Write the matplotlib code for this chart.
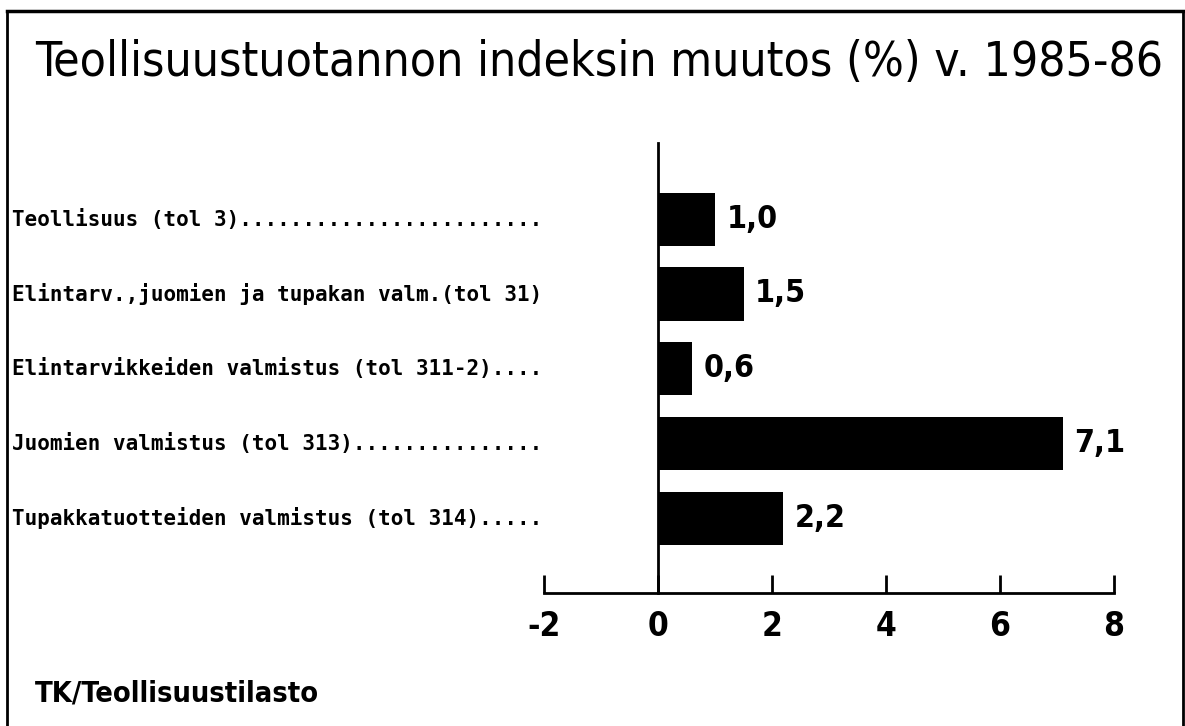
import matplotlib
matplotlib.use("Agg")
import matplotlib.pyplot as plt
from matplotlib.lines import Line2D
from matplotlib.transforms import blended_transform_factory

categories = [
    "Teollisuus (tol 3)........................",
    "Elintarv.,juomien ja tupakan valm.(tol 31)",
    "Elintarvikkeiden valmistus (tol 311-2)....",
    "Juomien valmistus (tol 313)...............",
    "Tupakkatuotteiden valmistus (tol 314).....",
]
values = [1.0, 1.5, 0.6, 7.1, 2.2]
value_labels = ["1,0", "1,5", "0,6", "7,1", "2,2"]
xticks = [-2, 0, 2, 4, 6, 8]
title = "Teollisuustuotannon indeksin muutos (%) v. 1985-86"
source = "TK/Teollisuustilasto"

plt.rcParams['font.family'] = ["DejaVu Sans"]
plt.rcParams['font.stretch'] = 'condensed'

W, H = 1185, 726
fig = plt.figure(figsize=(W / 100, H / 100), dpi=100)
fig.patch.set_facecolor("white")
renderer = fig.canvas.get_renderer()


def fit(txt, width_px):
    bb = txt.get_window_extent(renderer=renderer)
    txt.set_fontsize(txt.get_fontsize() * width_px / bb.width)


x0, x1 = 544, 1114
ytop, ybot = 143, 593
ax = fig.add_axes([x0 / W, 1 - ybot / H, (x1 - x0) / W, (ybot - ytop) / H])
ax.set_xlim(-2, 8)
ax.set_ylim(5.0, -1.02)

ypos = list(range(len(categories)))
ax.barh(ypos, values, height=0.71, color="black", zorder=3)

for y, v, lab in zip(ypos, values, value_labels):
    ax.text(v + 0.2, y, lab, va="center", ha="left", fontsize=23,
            fontweight="bold", color="black")

for s in ["top", "right"]:
    ax.spines[s].set_visible(False)
ax.spines["left"].set_position(("data", 0))
ax.spines["left"].set_linewidth(2)
ax.spines["bottom"].set_linewidth(2)
ax.set_yticks([])
ax.set_xticks(xticks)
ax.set_xticklabels([str(t) for t in xticks])
ax.tick_params(axis="x", direction="in", length=13, width=2, pad=12,
               labelsize=24)
for t in ax.get_xticklabels():
    t.set_fontweight("bold")

trans = blended_transform_factory(fig.transFigure, ax.transData)
cat_texts = []
for y, c in zip(ypos, categories):
    t = ax.text(12 / W, y, c, transform=trans, fontsize=16, fontweight="bold",
                va="center", ha="left", family=["DejaVu Sans Mono"],
                fontstretch="normal")
    cat_texts.append(t)
widths = [t.get_window_extent(renderer=renderer).width for t in cat_texts]
scale = 528 / max(widths)
for t in cat_texts:
    t.set_fontsize(16 * scale)

tt = fig.text(35 / W, 1 - 62 / H, title, fontsize=40, va="center", ha="left")
fit(tt, 1128)
st = fig.text(35 / W, 1 - 694 / H, source, fontsize=22, va="center", ha="left",
              fontweight="bold")
fit(st, 283)

fig.add_artist(Line2D([7 / W, 7 / W], [0, 1 - 11 / H], transform=fig.transFigure,
                      color="black", lw=2))
fig.add_artist(Line2D([7 / W, 1183 / W], [1 - 11 / H, 1 - 11 / H],
                      transform=fig.transFigure, color="black", lw=2.5))
fig.add_artist(Line2D([1183 / W, 1183 / W], [0, 1 - 11 / H],
                      transform=fig.transFigure, color="black", lw=2))

fig.savefig("out.png", dpi=100)
